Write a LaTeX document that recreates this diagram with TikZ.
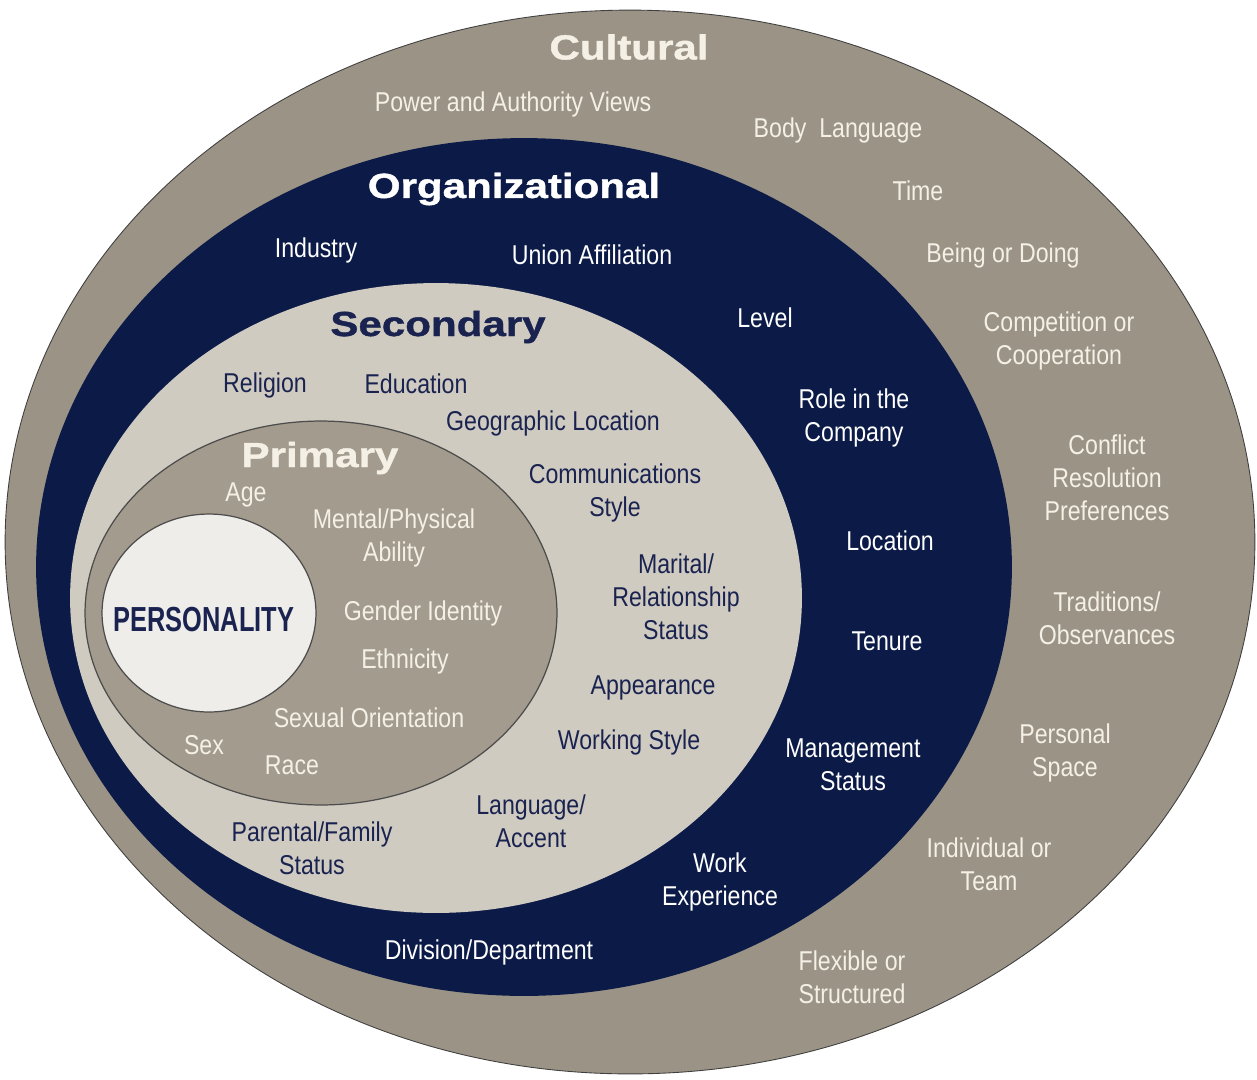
\documentclass[tikz,border=0pt]{standalone}
\usepackage{fontspec}
\newfontfamily\condfont[FakeStretch=0.85]{Liberation Sans}
\newfontfamily\headfont[FakeStretch=1.21,FakeBold=1.2]{Liberation Sans}
\newfontfamily\persfont[FakeStretch=0.73]{Liberation Sans}
\definecolor{cultgray}{HTML}{9B9486}
\definecolor{orgnavy}{HTML}{0B1A47}
\definecolor{secgray}{HTML}{CFCBC1}
\definecolor{primgray}{HTML}{A39B8D}
\definecolor{perswhite}{HTML}{EEEDEA}
\definecolor{cream}{HTML}{F4F0E6}
\definecolor{navytext}{HTML}{1A2350}

\begin{document}
\begin{tikzpicture}
  [x=0.02cm,y=-0.02cm,
   every node/.style={align=center,inner sep=0pt},
   item/.style={font=\condfont\fontsize{15.5}{18.7}\selectfont,yshift=-1.5pt},
   light/.style={item,text=cream},
   dark/.style={item,text=navytext},
   head/.style={font=\headfont\bfseries\fontsize{19.8}{22}\selectfont}]
  \useasboundingbox (0,0) rectangle (1257,1079);

  % the five rings, outside in
  \draw[fill=cultgray,draw=black!75,line width=0.5pt] (630,542) ellipse [x radius=12.5cm,y radius=10.64cm];
  \fill[orgnavy] (524,567) ellipse [x radius=9.76cm,y radius=8.58cm];
  \fill[secgray] (436,598) ellipse [x radius=7.32cm,y radius=6.3cm];
  \draw[fill=primgray,draw=black!70,line width=0.7pt] (321,613) ellipse [x radius=4.72cm,y radius=3.84cm];
  \draw[fill=perswhite,draw=black!70,line width=0.7pt] (209,613) ellipse [x radius=2.14cm,y radius=1.98cm];

  % cultural
  \node[head,text=cream] (cult) at (629,47) {Cultural};
  \node[light] (power) at (513,102) {Power and Authority Views};
  \node[light] (body) at (838,128) {Body\ \ Language};
  \node[light] (time) at (918,188) {Time};
  \node[light] (being) at (1003,253) {Being or Doing};
  \node[light] (compet) at (1059,338) {Competition or\\Cooperation};
  \node[light] (confl) at (1107,475) {Conflict\\Resolution\\Preferences};
  \node[light] (trad) at (1107,616) {Traditions/\\Observances};
  \node[light] (space) at (1065,750) {Personal\\Space};
  \node[light] (indiv) at (989,862) {Individual or\\Team};
  \node[light] (flex) at (852,975) {Flexible or\\Structured};

  % organizational
  \node[head,text=white] (org) at (514,189) {Organizational};
  \node[light,text=white] (industry) at (316,248) {Industry};
  \node[light,text=white] (union) at (592,252) {Union Affiliation};
  \node[light,text=white] (level) at (765,315) {Level};
  \node[light,text=white] (role) at (854,415) {Role in the\\Company};
  \node[light,text=white] (loc) at (890,538) {Location};
  \node[light,text=white] (tenure) at (887,639) {Tenure};
  \node[light,text=white] (mgmt) at (853,762) {Management\\Status};
  \node[light,text=white] (work) at (720,879) {Work\\Experience};
  \node[light,text=white] (div) at (489,950) {Division/Department};

  % secondary
  \node[head,text=navytext] (sec) at (438,327) {Secondary};
  \node[dark] (relig) at (265,383) {Religion};
  \node[dark] (edu) at (416,381) {Education};
  \node[dark] (geo) at (553,421) {Geographic Location};
  \node[dark] (comm) at (615,490) {Communications\\Style};
  \node[dark] (marital) at (676,594) {Marital/\\Relationship\\Status};
  \node[dark] (appear) at (653,685) {Appearance};
  \node[dark] (wstyle) at (629,740) {Working Style};
  \node[dark] (lang) at (531,819) {Language/\\Accent};
  \node[dark] (parent) at (312,846) {Parental/Family\\Status};

  % primary
  \node[head,text=cream] (prim) at (320,458) {Primary};
  \node[light] (age) at (246,492) {Age};
  \node[light] (ability) at (394,535) {Mental/Physical\\Ability};
  \node[light] (gender) at (423,611) {Gender Identity};
  \node[light] (ethn) at (405,659) {Ethnicity};
  \node[light] (orient) at (369,715) {Sexual Orientation};
  \node[light] (sex) at (204,742) {Sex};
  \node[light] (race) at (292,763) {Race};

  % core
  \node[font=\persfont\bfseries\fontsize{19.8}{22}\selectfont,text=navytext] (pers) at (204,620) {PERSONALITY};
\end{tikzpicture}
\end{document}
